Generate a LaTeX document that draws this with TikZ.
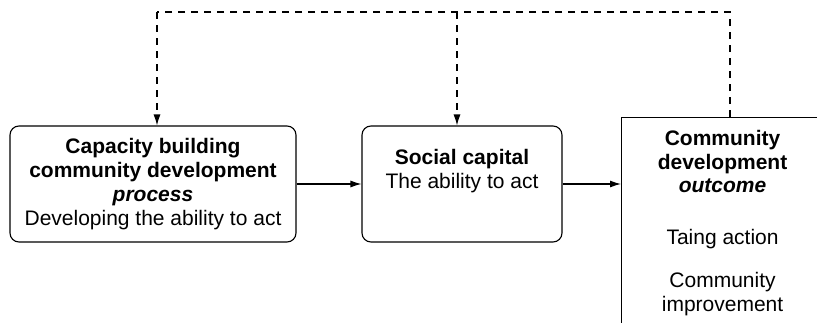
\documentclass[tikz,border=0pt]{standalone}
\usepackage{fontspec}
\setmainfont{Liberation Sans}
\usetikzlibrary{arrows.meta,positioning}

\tikzset{
	stage/.style={draw, rounded corners=9pt, line width=1.1pt, align=center,
		font=\fontsize{21}{24}\selectfont, inner sep=0pt},
	flow/.style={-{Latex[length=11pt,width=7pt]}, line width=1.1pt},
	feedback/.style={line width=1.1pt, dash pattern=on 7pt off 6pt}
}

\begin{document}
\begin{tikzpicture}[x=1pt,y=-1pt]
			\useasboundingbox (0,0) rectangle (817,322);
			\clip (0,0) rectangle (817,322);
			% the three stages
			\node[stage, minimum width=286pt, minimum height=116pt] (process) at (153,184)
				{\textbf{Capacity building}\\ \textbf{community development}\\ \textbf{\textit{process}}\\ Developing the ability to act};
			\node[stage, minimum width=200pt, minimum height=116pt] (capital) at (462,184)
				{\textbf{Social capital}\\ The ability to act\\[6pt]};
			\node[draw, line width=1.1pt, anchor=north west, minimum width=202pt, minimum height=260pt] (outcome) at (621,117) {};
			\node[anchor=north, align=center, font=\fontsize{21}{23.5}\selectfont] (outtext) at ([yshift=-10pt]outcome.north)
				{\textbf{Community}\\ \textbf{development}\\ \textbf{\textit{outcome}}\\[28pt] Taing action\\[20pt] Community\\ improvement};
			% arrows between stages
			\draw[flow] (process.east) -- (capital.west);
			\draw[flow] (capital.east) -- (outcome.west |- capital.east);
			% feedback loop
			\coordinate (topL) at (157,12);
			\coordinate (topM) at (457,12);
			\coordinate (topR) at (730,12);
			\draw[feedback] (outcome.north -| topR) -- (topR) -- (topL);
			\draw[feedback, flow] (topL) -- (topL |- process.north);
			\draw[feedback, flow] (topM) -- (topM |- capital.north);
		\end{tikzpicture}
\end{document}
